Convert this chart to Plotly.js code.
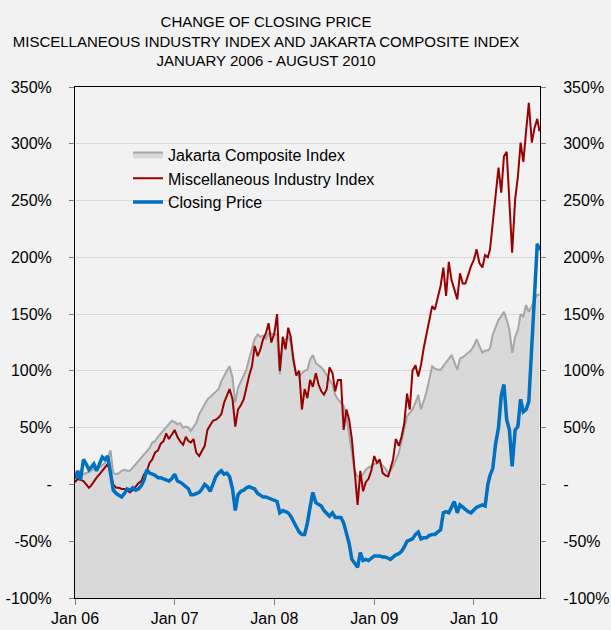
<!DOCTYPE html>
<html>
<head>
<meta charset="utf-8">
<script src="https://cdn.plot.ly/plotly-3.0.1.min.js"></script>
<style>
html,body{margin:0;padding:0;background:#f2f2f2;}
#chart{width:611px;height:630px;}
</style>
</head>
<body>
<div id="chart"></div>
<script>
// Sampling grid: 1st, 11th and 21st of each month, Jan 2006 - Aug 2010, plus last trading point
const GRID_DAYS = ['01', '11', '21'];
const LAST_DATE = '2010-08-29';
const dates = [];
for (let y = 2006; y <= 2010; y++) {
  for (let m = 1; m <= 12; m++) {
    if (y === 2010 && m > 8) break;
    const mm = (m < 10 ? '0' : '') + m;
    GRID_DAYS.forEach(d => dates.push(y + '-' + mm + '-' + d));
  }
}
dates.push(LAST_DATE);

// Jakarta Composite Index, % change since Jan 2006
const jci = [
  2,5,7, 9,10,11, 12,14,14, 15,17,19, 24,30,10, 9,10,12, 13,12,12, 15,18,21, 24,27,29, 32,37,38, 42,45,47, 51,53,56,
  55,53,54, 50,51,50, 47,51,54, 62,66,70, 75,77,79, 82,84,91, 96,100,104, 94,72,85, 91,96,101, 111,120,128, 132,130,131, 128,133,133,
  132,132,97, 125,128,130, 125,108,98, 95,98,100, 101,110,114, 107,105,103, 100,96,92, 88,79,75, 72,69,60, 45,28,12, 7,7,9, 13,15,16,
  18,19,19, 16,14,10, 12,16,22, 28,38,50, 60,63,66, 72,79,66, 74,81,92, 104,102,101, 101,104,107, 110,114,108, 101,111,112, 114,116,118,
  122,128,122, 116,118,118, 120,132,138, 145,148,152, 145,136,116, 130,136,150, 148,158,152, 157,163,167,
  167
];

// Miscellaneous Industry Index, % change since Jan 2006
const misc = [
  2,5,4, 3,0,-3, -1,3,6, 9,12,14, 18,10,0, -3,-3,-4, -4,-5,-7, -5,-2,1, 3,9,12, 19,22,28, 30,36,38, 45,40,44,
  48,42,38, 35,42,38, 37,40,28, 25,30,34, 48,52,56, 57,59,62, 72,78,84, 75,51,66, 70,75,86, 96,104,122, 113,119,128, 133,142,125,
  133,150,100, 130,119,138, 130,110,96, 100,66,84, 76,92,86, 98,88,82, 79,84,103, 98,82,92, 92,48,66, 57,40,15, -18,12,-6, 2,5,12,
  25,19,22, 10,8,7, 13,22,40, 34,42,54, 80,66,100, 105,95,105, 120,133,145, 157,154,163, 175,191,166, 196,180,172, 163,186,177, 177,185,192,
  198,207,195, 191,202,200, 207,230,254, 279,257,289, 293,248,204, 251,271,301, 284,311,336, 301,314,322,
  311
];

// Closing price, % change since Jan 2006
const closing = [
  5,12,4, 22,18,13, 15,18,12, 18,24,22, 25,10,-5, -8,-10,-11, -8,-4,-5, -3,-5,-4, -1,4,13, 10,9,8, 6,6,5, 4,3,5,
  9,3,2, 0,-2,-4, -9,-9,-8, -7,-4,0, -2,-6,0, 7,10,12, 9,10,7, -4,-23,-9, -6,-5,-3, -2,-3,-4, -8,-10,-11, -11,-12,-13,
  -14,-15,-25, -23,-24,-25, -28,-32,-37, -42,-44,-44, -34,-20,-7, -16,-18,-19, -23,-26,-28, -25,-29,-29, -29,-34,-44, -52,-66,-69, -73,-60,-67, -66,-67,-65,
  -63,-63,-63, -64,-64,-65, -66,-64,-62, -61,-59,-55, -50,-49,-48, -44,-42,-48, -47,-47,-45, -44,-44,-42, -40,-25,-24, -25,-20,-15, -25,-18,-20, -22,-24,-25,
  -22,-20,-19, -18,-19,0, 8,14,35, 50,78,88, 57,48,16, 48,51,75, 64,66,73, 122,165,212,
  206
];

const seriesNames = ['Jakarta Composite Index', 'Miscellaneous Industry Index', 'Closing Price'];
const xTickVals = ['2006-01-01', '2007-01-01', '2008-01-01', '2009-01-01', '2010-01-01'];
const xTickText = ['Jan 06', 'Jan 07', 'Jan 08', 'Jan 09', 'Jan 10'];
const yTickVals = [-100, -50, 0, 50, 100, 150, 200, 250, 300, 350];
const yTickText = ['-100%', '-50%', '-', '50%', '100%', '150%', '200%', '250%', '300%', '350%'];
const Y_MIN = -100, Y_MAX = 350;
const X_RANGE = ['2006-01-01', '2010-08-31'];

const baseline = dates.map(() => Y_MIN);

const traces = [
  // invisible trace so the right-hand percentage axis is drawn
  {x: dates, y: baseline, yaxis: 'y2', type: 'scatter', mode: 'lines',
   line: {width: 0, color: 'rgba(0,0,0,0)'}, showlegend: false, hoverinfo: 'skip'},
  // bottom edge for the area fill of the composite index
  {x: dates, y: baseline, type: 'scatter', mode: 'lines', line: {width: 0, color: 'rgba(0,0,0,0)'},
   showlegend: false, hoverinfo: 'skip'},
  {x: dates, y: jci, name: seriesNames[0], type: 'scatter', mode: 'lines', fill: 'tonexty',
   fillcolor: '#d9d9d9', line: {color: '#a6a6a6', width: 2}},
  {x: dates, y: misc, name: seriesNames[1], type: 'scatter', mode: 'lines',
   line: {color: '#990000', width: 2}},
  {x: dates, y: closing, name: seriesNames[2], type: 'scatter', mode: 'lines',
   line: {color: '#0070c0', width: 3.5}}
];

const tickFont = {family: 'Liberation Sans, Arial, sans-serif', size: 16, color: '#000'};

const yCommon = {
  range: [Y_MIN, Y_MAX], tickvals: yTickVals, ticktext: yTickText,
  showline: true, linecolor: '#000', linewidth: 1,
  ticks: 'outside', ticklen: 5, tickcolor: '#808080', tickfont: tickFont,
  zeroline: false, fixedrange: true, ticklabelstandoff: 14
};

const layout = {
  width: 611, height: 630,
  paper_bgcolor: '#f2f2f2', plot_bgcolor: '#f2f2f2',
  margin: {l: 75, r: 71, t: 87, b: 32},
  font: {family: 'Liberation Sans, Arial, sans-serif', color: '#000'},
  title: {
    text: 'CHANGE OF CLOSING PRICE<br>MISCELLANEOUS INDUSTRY INDEX AND JAKARTA COMPOSITE INDEX<br>JANUARY 2006 - AUGUST 2010',
    font: {family: 'Liberation Sans, Arial, sans-serif', size: 15, color: '#000'},
    xref: 'container', yref: 'container', x: 0.4354, xanchor: 'center', y: 0.957, yanchor: 'middle'
  },
  xaxis: {
    type: 'date', range: X_RANGE, tickvals: xTickVals, ticktext: xTickText,
    showline: true, linecolor: '#000', linewidth: 1, mirror: true,
    ticks: 'outside', ticklen: 6, tickcolor: '#808080', tickfont: tickFont,
    showgrid: false, zeroline: false, fixedrange: true
  },
  yaxis: Object.assign({}, yCommon, {showgrid: true, gridcolor: '#d9d9d9', gridwidth: 1}),
  yaxis2: Object.assign({}, yCommon, {overlaying: 'y', side: 'right', showgrid: false}),
  showlegend: true,
  legend: {
    x: 0.114, y: 0.901, xanchor: 'left', yanchor: 'top',
    bgcolor: 'rgba(0,0,0,0)', borderwidth: 0,
    font: {family: 'Liberation Sans, Arial, sans-serif', size: 16, color: '#000'},
    tracegroupgap: 0, traceorder: 'normal'
  },
  hovermode: false
};

Plotly.newPlot('chart', traces, layout, {displayModeBar: false, staticPlot: true});
</script>
</body>
</html>
